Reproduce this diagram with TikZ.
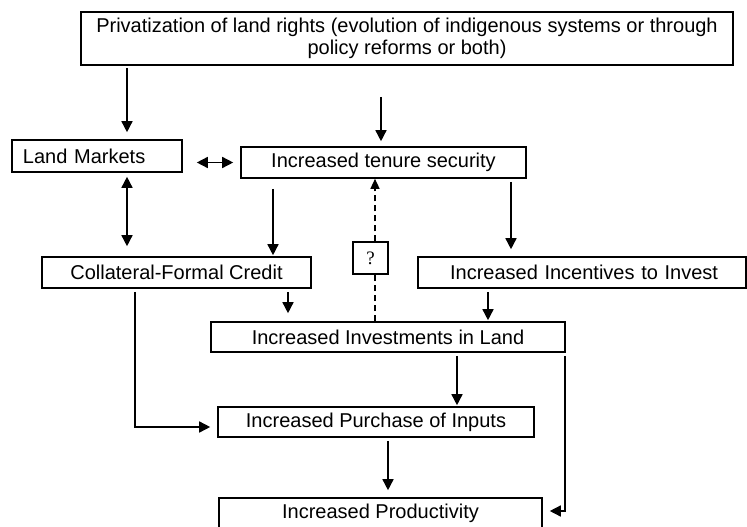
\documentclass[tikz,border=0pt]{standalone}
\usepackage{fontspec}
\setmainfont{Liberation Sans}
\newfontfamily\qfont{Liberation Serif}
\usetikzlibrary{arrows.meta}
\begin{document}
\begin{tikzpicture}[x=1pt,y=-1pt,
  box/.style={draw, line width=1.6pt, inner sep=0pt, font=\fontsize{20}{22}\selectfont, align=center},
  arr/.style={line width=1.5pt, -{Triangle[length=11pt,width=11pt]}},
  darr/.style={line width=1.5pt, {Triangle[length=11pt,width=11pt]}-{Triangle[length=11pt,width=11pt]}},
  dline/.style={line width=1.4pt, dash pattern=on 6pt off 4pt}]
\clip (0,0) rectangle (747,527);
\fill[white] (0,0) rectangle (747,527);

% column helpers
\coordinate (c127) at (127,0);
\coordinate (c135) at (135,0);
\coordinate (c273) at (273,0);
\coordinate (c288) at (288,0);
\coordinate (c375) at (375,0);
\coordinate (c381) at (381,0);
\coordinate (c388) at (388,0);
\coordinate (c457) at (457,0);
\coordinate (c488) at (488,0);
\coordinate (c511) at (511,0);
\coordinate (c565) at (565,0);

% boxes
\node[box, minimum width=652pt, minimum height=53pt] (top) at (407,38.5)
  {Privatization of land rights (evolution of indigenous systems or through\\policy reforms or both)};
\node[box, text width=148pt, align=left, inner xsep=11pt, minimum height=32pt] (landm) at (97,156) {Land Markets};
\node[box, minimum width=285pt, minimum height=31pt] (tenure) at (383.5,162.5) {Increased tenure security};
\node[box, minimum width=269pt, minimum height=31pt] (coll) at (176.5,272.5) {Collateral-Formal Credit};
\node[box, text width=272pt, align=right, inner xsep=28pt, minimum height=31pt] (incent) at (582,272.5) {Increased Incentives to Invest};
\node[draw, line width=1.4pt, fill=white, inner sep=0pt, minimum width=35pt, minimum height=32pt,
      font=\qfont\fontsize{19}{20}\selectfont] (q) at (370.5,258) {?};
\node[box, minimum width=354pt, minimum height=30pt] (invest) at (388,337) {Increased Investments in Land};
\node[box, minimum width=316pt, minimum height=30pt] (purch) at (376,422) {Increased Purchase of Inputs};
\node[box, minimum width=323pt, minimum height=31pt] (prod) at (380.5,513.5) {Increased Productivity};

% connectors
\draw[arr, shorten <=2pt, shorten >=7pt] (top.south -| c127) -- (landm.north -| c127);
\draw[arr, shorten <=31pt, shorten >=5pt] (top.south -| c381) -- (tenure.north -| c381);
\draw[darr, shorten <=14pt, shorten >=7pt] (landm.east |- tenure.west) -- (tenure.west);
\draw[darr, shorten <=4pt, shorten >=10pt] (landm.south -| c127) -- (coll.north -| c127);
\draw[arr, shorten <=10pt, shorten >=1pt] (tenure.south -| c273) -- (coll.north -| c273);
\draw[arr, shorten <=3pt, shorten >=7pt] (tenure.south -| c511) -- (incent.north -| c511);
\draw[dline] (invest.north -| c375) -- (q.south -| c375);
\draw[dline, -{Triangle[length=10pt,width=9pt]}] (q.north -| c375) -- (tenure.south -| c375);
\draw[arr, shorten <=3pt, shorten >=8pt] (coll.south -| c288) -- (invest.north -| c288);
\draw[arr, shorten <=3pt, shorten >=1pt] (incent.south -| c488) -- (invest.north -| c488);
\draw[arr, shorten <=3pt, shorten >=1pt] (invest.south -| c457) -- (purch.north -| c457);
\draw[arr, shorten <=3pt, shorten >=7pt] (coll.south -| c135) |- ([yshift=-5pt]purch.west);
\draw[arr, shorten <=3pt, shorten >=7pt] (purch.south -| c388) -- (prod.north -| c388);
\draw[arr, shorten <=3pt, shorten >=7pt] (invest.south -| c565) |- ([yshift=2.5pt]prod.east);
\end{tikzpicture}
\end{document}
